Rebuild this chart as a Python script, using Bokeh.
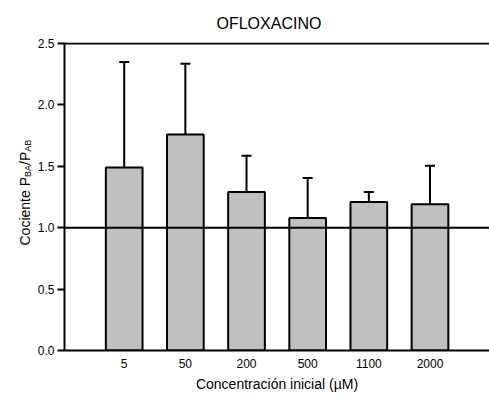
import math
from bokeh.plotting import figure
from bokeh.layouts import row
from bokeh.models import (ColumnDataSource, Range1d, FixedTicker, Span, Whisker,
                          TeeHead, NumeralTickFormatter)
from bokeh.core.properties import value
from bokeh.embed import file_html
from bokeh.resources import INLINE

categories = ["5", "50", "200", "500", "1100", "2000"]
values = [1.49, 1.76, 1.29, 1.08, 1.21, 1.19]
upper = [2.35, 2.335, 1.585, 1.405, 1.29, 1.505]
y_ticks = [0.0, 0.5, 1.0, 1.5, 2.0, 2.5]

FONT = "Liberation Sans"
positions = list(range(1, len(categories) + 1))

src = ColumnDataSource(dict(x=positions, top=values, upper=upper))
yr = Range1d(0, 2.5082)

# ---- left strip holding the y-axis label (with subscripts); shares the y range
lf = figure(width=34, height=397, output_backend="svg", toolbar_location=None,
            x_range=Range1d(0, 34), y_range=yr,
            x_axis_type=None, y_axis_type=None, title=None,
            min_border_left=0, min_border_right=0, min_border_top=42, min_border_bottom=47)
lf.outline_line_color = None
lf.xgrid.visible = False
lf.ygrid.visible = False
lf.border_fill_color = "white"
ylab_src = ColumnDataSource(dict(
    x=[24.5, 27.5, 24.5, 27.5],
    y=[0.855, 1.413, 1.511, 1.618],
    text=["Cociente P", "BA", "/P", "AB"],
    size=["14px", "9px", "14px", "9px"]))
lf.text(x="x", y="y", text="text", source=ylab_src, angle=math.pi / 2,
        text_align="left", text_baseline="alphabetic", text_font=value(FONT),
        text_font_size="size", text_color="black")

# ---- main plot
p = figure(width=455, height=397, output_backend="svg", toolbar_location=None,
           x_range=Range1d(0.024, 6.973), y_range=yr,
           min_border_left=30, min_border_right=0, min_border_top=42,
           min_border_bottom=47, title="OFLOXACINO")
p.outline_line_color = None
p.xgrid.visible = False
p.ygrid.visible = False
p.background_fill_color = "white"
p.border_fill_color = "white"
p.title.text_font = FONT
p.title.text_font_size = "16px"
p.title.text_font_style = "normal"
p.title.align = "left"
p.title.offset = 152
p.title.standoff = 22
p.title.text_color = "black"

p.vbar(x="x", top="top", width=0.6, bottom=0, source=src,
       fill_color="#c0c0c0", line_color="black", line_width=2)

w = Whisker(base="x", lower="top", upper="upper", source=src,
            line_color="black", line_width=2,
            upper_head=TeeHead(size=10, line_color="black", line_width=2),
            lower_head=None)
p.add_layout(w)

p.add_layout(Span(location=1.0, dimension="width", line_color="black", line_width=2))
p.add_layout(Span(location=2.5, dimension="width", line_color="black", line_width=2))

# x axis
xa = p.xaxis[0]
xa.ticker = FixedTicker(ticks=positions)
xa.major_label_overrides = {i: c for i, c in zip(positions, categories)}
xa.major_tick_out = 0
xa.major_tick_in = 0
xa.minor_tick_line_color = None
xa.axis_line_width = 2
xa.axis_line_color = "black"
xa.major_label_standoff = 8
xa.major_label_text_font = FONT
xa.major_label_text_font_size = "12px"
xa.major_label_text_color = "black"
xa.axis_label = "Concentración inicial (µM)"
xa.axis_label_text_font = FONT
xa.axis_label_text_font_size = "14px"
xa.axis_label_text_font_style = "normal"
xa.axis_label_text_color = "black"
xa.axis_label_standoff = 5

# y axis
ya = p.yaxis[0]
ya.ticker = FixedTicker(ticks=y_ticks)
ya.formatter = NumeralTickFormatter(format="0.0")
ya.major_tick_out = 7
ya.major_tick_in = 0
ya.major_tick_line_width = 2
ya.minor_tick_line_color = None
ya.axis_line_width = 2
ya.axis_line_color = "black"
ya.major_label_standoff = 3
ya.major_label_text_font = FONT
ya.major_label_text_font_size = "12px"
ya.major_label_text_color = "black"

layout = row(lf, p)
open("out.html", "w").write(file_html(layout, INLINE))
